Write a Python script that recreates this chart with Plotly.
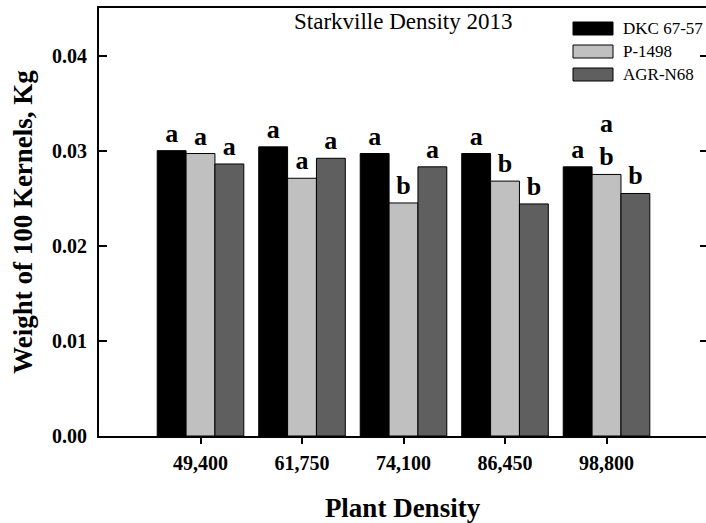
import plotly.graph_objects as go

categories = ["49,400", "61,750", "74,100", "86,450", "98,800"]
series_names = ["DKC 67-57", "P-1498", "AGR-N68"]
dkc = [0.0300, 0.0304, 0.0297, 0.0297, 0.0283]
p1498 = [0.0297, 0.0271, 0.0245, 0.0268, 0.0275]
agr = [0.0286, 0.0292, 0.0283, 0.0244, 0.0255]
dkc_letters = ["a", "a", "a", "a", "a"]
p1498_letters = ["a", "a", "b", "b", "a<br>b"]
agr_letters = ["a", "a", "a", "b", "b"]
y_ticks = [0.0, 0.01, 0.02, 0.03, 0.04]

colors = ["#000000", "#c0c0c0", "#5f5f5f"]
SERIF = "Liberation Serif"

W, H = 706, 523
L, R, T, B = 99, 0, 8, 87
PW, PH = W - L - R, H - T - B

fig = go.Figure()
for name, vals, letters, col in zip(series_names, [dkc, p1498, agr],
                                    [dkc_letters, p1498_letters, agr_letters], colors):
    fig.add_trace(go.Bar(
        x=categories, y=vals, name=name, text=letters,
        textposition="outside", cliponaxis=False, constraintext="none",
        textfont=dict(family=SERIF, size=26, color="black", weight="bold"),
        marker=dict(color=col, line=dict(color="black", width=1)),
        showlegend=False,
    ))

# invisible trace to anchor the right-side tick axis
fig.add_trace(go.Scatter(x=categories, y=dkc, yaxis="y2", mode="markers",
                         marker=dict(opacity=0), showlegend=False, hoverinfo="skip"))

def px_to_paper_x(px):
    return (px - L) / PW

def px_to_paper_y(py):
    return (H - B - py) / PH

shapes = []
annotations = []
row_centers = [28.5, 51.5, 74.5]
for name, col, yc in zip(series_names, colors, row_centers):
    shapes.append(dict(type="rect", xref="paper", yref="paper",
                       x0=px_to_paper_x(573), x1=px_to_paper_x(613),
                       y0=px_to_paper_y(yc + 6.5), y1=px_to_paper_y(yc - 6.5),
                       fillcolor=col, line=dict(color="black", width=1)))
    annotations.append(dict(text=name, xref="paper", yref="paper",
                            x=px_to_paper_x(621), y=px_to_paper_y(yc),
                            xanchor="left", yanchor="middle", showarrow=False,
                            font=dict(family=SERIF, size=17, color="black")))

annotations.append(dict(text="Starkville Density 2013", xref="paper", yref="paper",
                        x=px_to_paper_x(402.5), y=px_to_paper_y(21),
                        xanchor="center", yanchor="middle", showarrow=False,
                        font=dict(family=SERIF, size=23, color="black")))

fig.update_layout(
    width=W, height=H,
    margin=dict(l=L, r=R, t=T, b=B),
    paper_bgcolor="white", plot_bgcolor="white",
    barmode="group", bargap=0.147, bargroupgap=0,
    font=dict(family=SERIF, color="black"),
    shapes=shapes, annotations=annotations,
    xaxis=dict(
        range=[-1, 4.98], showline=True, linecolor="black", linewidth=2, mirror=True,
        ticks="outside", ticklen=6, tickwidth=1.5, tickcolor="black",
        tickfont=dict(family=SERIF, size=20, color="black", weight="bold"),
        ticklabelstandoff=2,
        showgrid=False, zeroline=False,
        title=dict(text="Plant Density",
                   font=dict(family=SERIF, size=27, color="black", weight="bold"),
                   standoff=28),
    ),
    yaxis=dict(
        range=[0, 0.045], tickvals=y_ticks, tickformat=".2f",
        showline=True, linecolor="black", linewidth=2,
        ticks="inside", ticklen=8, tickwidth=2, tickcolor="black",
        tickfont=dict(family=SERIF, size=20, color="black", weight="bold"),
        ticklabelstandoff=6,
        showgrid=False, zeroline=False,
        title=dict(text="Weight of 100 Kernels, Kg",
                   font=dict(family=SERIF, size=27, color="black", weight="bold"),
                   standoff=12),
    ),
    yaxis2=dict(
        range=[0, 0.045], tickvals=y_ticks, overlaying="y", side="right",
        showline=False, showticklabels=False, showgrid=False, zeroline=False,
        ticks="inside", ticklen=6, tickwidth=2, tickcolor="black",
    ),
)

fig.write_html("out.html")
